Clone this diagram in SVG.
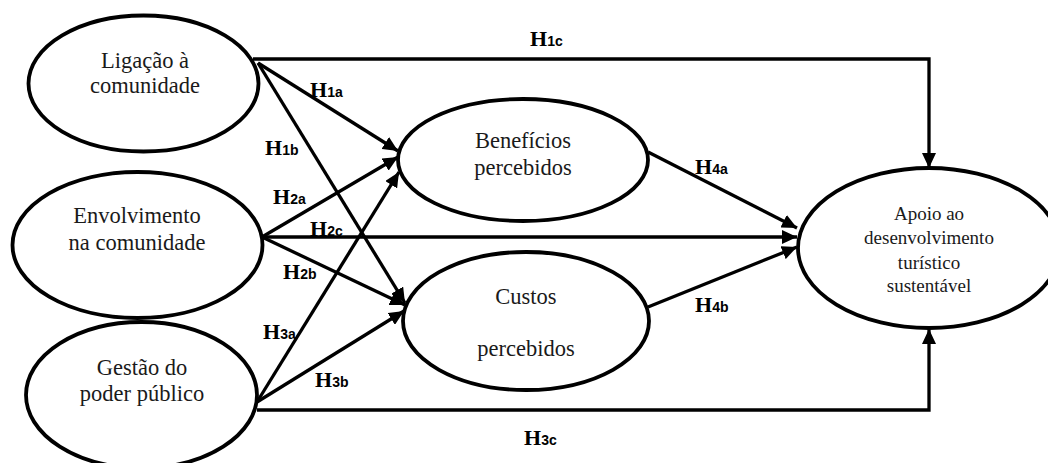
<svg xmlns="http://www.w3.org/2000/svg" width="1048" height="463" viewBox="0 0 1048 463">
<style>
.node ellipse{fill:#fff;stroke:#000;stroke-width:3.8}
.nt{font-family:'Liberation Serif','Times New Roman',serif;font-size:22.5px;fill:#1a1a1a;text-anchor:middle}
.st{font-family:'Liberation Serif','Times New Roman',serif;font-size:19px;fill:#1a1a1a;text-anchor:middle}
#connectors line,#connectors polyline{fill:none;stroke:#000;stroke-width:3.3;marker-end:url(#arr)}
.lb{font-family:'Liberation Serif','Times New Roman',serif;font-weight:bold;font-size:22px;fill:#000}
.sb{font-family:'Liberation Sans',Arial,sans-serif;font-weight:bold;font-size:14px}
</style>
<defs>
<marker id="arr" markerUnits="userSpaceOnUse" markerWidth="16" markerHeight="14" refX="15" refY="7" orient="auto">
<path d="M0,0 L15,7 L0,14 z" fill="#000"/>
</marker>
</defs>
<rect width="1048" height="463" fill="#fff"/>
<g id="connectors">
<polyline points="253,59 929,59 929,168"/>
<line x1="258" y1="63" x2="398" y2="151"/>
<line x1="258" y1="63" x2="405" y2="303"/>
<line x1="262" y1="237" x2="398" y2="157"/>
<line x1="263" y1="237" x2="797" y2="237"/>
<line x1="262" y1="237" x2="405" y2="305"/>
<line x1="257" y1="402" x2="399" y2="172"/>
<line x1="257" y1="402" x2="404" y2="311"/>
<polyline points="257,410 929,410 929,329"/>
<line x1="648" y1="152" x2="797" y2="228"/>
<line x1="648" y1="307" x2="797" y2="247"/>
</g>
<g id="n-ligacao" class="node">
<ellipse cx="143.5" cy="83.5" rx="115" ry="68"/>
<text class="nt" x="145" y="68">Ligação à</text>
<text class="nt" x="145" y="93">comunidade</text>
</g>
<g id="n-envolvimento" class="node">
<ellipse cx="137.5" cy="245" rx="125" ry="73"/>
<text class="nt" x="137" y="223">Envolvimento</text>
<text class="nt" x="137" y="250">na comunidade</text>
</g>
<g id="n-gestao" class="node">
<ellipse cx="141.5" cy="395" rx="115.5" ry="73"/>
<text class="nt" x="142" y="375">Gestão do</text>
<text class="nt" x="142" y="401">poder público</text>
</g>
<g id="n-beneficios" class="node">
<ellipse cx="523" cy="160" rx="125" ry="61"/>
<text class="nt" x="523" y="148">Benefícios</text>
<text class="nt" x="523" y="175">percebidos</text>
</g>
<g id="n-custos" class="node">
<ellipse cx="526" cy="321" rx="123" ry="69"/>
<text class="nt" x="526" y="304">Custos</text>
<text class="nt" x="526" y="356">percebidos</text>
</g>
<g id="n-apoio" class="node">
<ellipse cx="929" cy="248" rx="131" ry="80"/>
<text class="st" x="929" y="220">Apoio ao</text>
<text class="st" x="929" y="244">desenvolvimento</text>
<text class="st" x="929" y="269">turístico</text>
<text class="st" x="929" y="292">sustentável</text>
</g>
<g id="labels">
<text class="lb" x="530" y="46">H<tspan class="sb">1c</tspan></text>
<text class="lb" x="310" y="97">H<tspan class="sb">1a</tspan></text>
<text class="lb" x="265" y="155">H<tspan class="sb">1b</tspan></text>
<text class="lb" x="273" y="204">H<tspan class="sb">2a</tspan></text>
<text class="lb" x="310" y="236">H<tspan class="sb">2c</tspan></text>
<text class="lb" x="283" y="279">H<tspan class="sb">2b</tspan></text>
<text class="lb" x="263" y="339">H<tspan class="sb">3a</tspan></text>
<text class="lb" x="315" y="387">H<tspan class="sb">3b</tspan></text>
<text class="lb" x="524" y="445">H<tspan class="sb">3c</tspan></text>
<text class="lb" x="695" y="174">H<tspan class="sb">4a</tspan></text>
<text class="lb" x="695" y="312">H<tspan class="sb">4b</tspan></text>
</g>
</svg>
